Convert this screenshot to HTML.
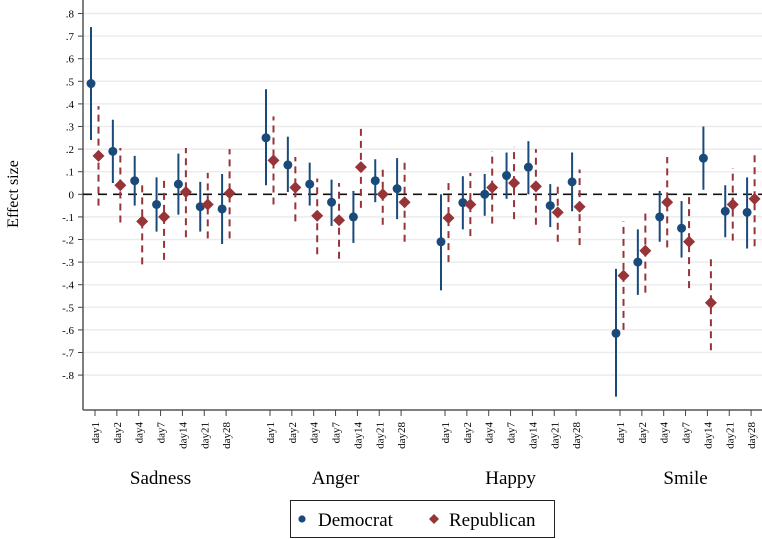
<!DOCTYPE html>
<html><head><meta charset="utf-8"><style>
body{margin:0;background:#fff;}
svg{display:block;font-family:"Liberation Serif",serif;}
</style></head><body>
<svg id="chart" width="762" height="539" viewBox="0 0 762 539">
<g id="grid"></g>
<g id="yaxis"></g>
<line x1="83" y1="194.3" x2="762" y2="194.3" stroke="#111" stroke-width="1.6" stroke-dasharray="9,6"/>
<g id="marks"></g>
<g id="xaxis"></g>
<text x="18" y="194" transform="rotate(-90 18 194)" text-anchor="middle" font-size="16">Effect size</text>
<g>
<rect x="290.5" y="500.5" width="264" height="37" fill="#fff" stroke="#222" stroke-width="1"/>
<circle cx="302" cy="519" r="3.6" fill="#1a4a7a"/>
<text x="318" y="526" font-size="19">Democrat</text>
<path d="M434 514 L439 519 L434 524 L429 519Z" fill="#963438"/>
<text x="449" y="526" font-size="19">Republican</text>
</g>
</svg>
<script>
const groups=["Sadness","Anger","Happy","Smile"];
const days=["day1","day2","day4","day7","day14","day21","day28"];
const yTicks=[0.8,0.7,0.6,0.5,0.4,0.3,0.2,0.1,0,-0.1,-0.2,-0.3,-0.4,-0.5,-0.6,-0.7,-0.8];
const yTickLabels=[".8",".7",".6",".5",".4",".3",".2",".1","0","-.1","-.2","-.3","-.4","-.5","-.6","-.7","-.8"];
const demEst=[0.49,0.19,0.06,-0.045,0.045,-0.055,-0.065, 0.25,0.13,0.045,-0.035,-0.10,0.06,0.025, -0.21,-0.037,0,0.083,0.12,-0.05,0.055, -0.615,-0.30,-0.10,-0.15,0.16,-0.075,-0.08];
const demLo=[0.24,0.05,-0.05,-0.165,-0.09,-0.165,-0.22, 0.04,0.01,-0.05,-0.14,-0.215,-0.035,-0.11, -0.425,-0.155,-0.095,-0.02,0,-0.145,-0.075, -0.895,-0.445,-0.21,-0.28,0.02,-0.19,-0.24];
const demHi=[0.74,0.33,0.17,0.075,0.18,0.055,0.09, 0.465,0.255,0.14,0.065,0.015,0.155,0.16, 0,0.08,0.09,0.185,0.235,0.045,0.185, -0.33,-0.155,0.015,-0.03,0.30,0.04,0.075];
const repEst=[0.17,0.04,-0.12,-0.10,0.01,-0.045,0.005, 0.15,0.03,-0.095,-0.115,0.12,0,-0.035, -0.105,-0.045,0.03,0.05,0.035,-0.08,-0.055, -0.36,-0.25,-0.035,-0.21,-0.48,-0.045,-0.02];
const repLo=[-0.05,-0.125,-0.31,-0.29,-0.19,-0.195,-0.195, -0.045,-0.12,-0.265,-0.285,-0.06,-0.135,-0.21, -0.30,-0.185,-0.13,-0.11,-0.135,-0.21,-0.225, -0.60,-0.435,-0.235,-0.415,-0.69,-0.205,-0.23];
const repHi=[0.39,0.205,0.055,0.075,0.205,0.095,0.2, 0.345,0.165,0.07,0.05,0.295,0.13,0.14, 0.07,0.095,0.19,0.21,0.2,0.04,0.11, -0.12,-0.07,0.165,-0.01,-0.27,0.115,0.19];

const NS="http://www.w3.org/2000/svg";
const AX=83, AXB=410;
function yS(v){return 194.3-v*226;}
function xS(g,d){return 95+g*175+d*21.85;}
function mk(tag,attrs,parent){const e=document.createElementNS(NS,tag);for(const k in attrs)e.setAttribute(k,attrs[k]);parent.appendChild(e);return e;}
const grid=document.getElementById('grid'),yax=document.getElementById('yaxis'),marks=document.getElementById('marks'),xax=document.getElementById('xaxis');
yTicks.forEach((t,i)=>{
  const y=yS(t);
  if(t!==0){const gl=mk('line',{x1:AX,x2:762,y1:y,y2:y,stroke:'#ececec','stroke-width':1.5},grid);
  
  }
  const tk=mk('line',{x1:AX-5,x2:AX,y1:y,y2:y,stroke:'#444','stroke-width':1},yax);
  
  
  const tx=mk('text',{x:AX-9,y:y+4,'text-anchor':'end','font-size':11},yax);
  tx.textContent=yTickLabels[i];
  
  
});
const yl=mk('line',{x1:AX,x2:AX,y1:0,y2:AXB,stroke:'#555','stroke-width':1.5},yax);


const xl=mk('line',{x1:AX,x2:762,y1:AXB,y2:AXB,stroke:'#555','stroke-width':1.5},xax);


groups.forEach((g,gi)=>{
  days.forEach((d,di)=>{
    const x=xS(gi,di), k=gi*7+di;
    const tk=mk('line',{x1:x,x2:x,y1:AXB,y2:AXB+6,stroke:'#444','stroke-width':1},xax);
    
    
    const tx=mk('text',{x:0,y:0,'text-anchor':'end','font-size':11,transform:`translate(${x+4},${AXB+12}) rotate(-90)`},xax);
    tx.textContent=d;
    
    
    const dx=x-4, rx=x+3.5;
    const dl=mk('line',{x1:dx,x2:dx,y1:yS(demLo[k]),y2:yS(demHi[k]),stroke:'#1a4a7a','stroke-width':2},marks);
    
    
    const rl=mk('line',{x1:rx,x2:rx,y1:yS(repLo[k]),y2:yS(repHi[k]),stroke:'#963438','stroke-width':2,'stroke-dasharray':'7,5'},marks);
    
    
    const dc=mk('circle',{cx:dx,cy:yS(demEst[k]),r:4.5,fill:'#1a4a7a'},marks);
    
    
    const ry=yS(repEst[k]);
    const rp=mk('path',{d:`M${rx} ${ry-6}L${rx+6} ${ry}L${rx} ${ry+6}L${rx-6} ${ry}Z`,fill:'#963438'},marks);
    
    
  });
  const gt=mk('text',{x:xS(gi,3),y:484,'text-anchor':'middle','font-size':19},xax);
  gt.textContent=g;
  
  
});
</script>
</body></html>
